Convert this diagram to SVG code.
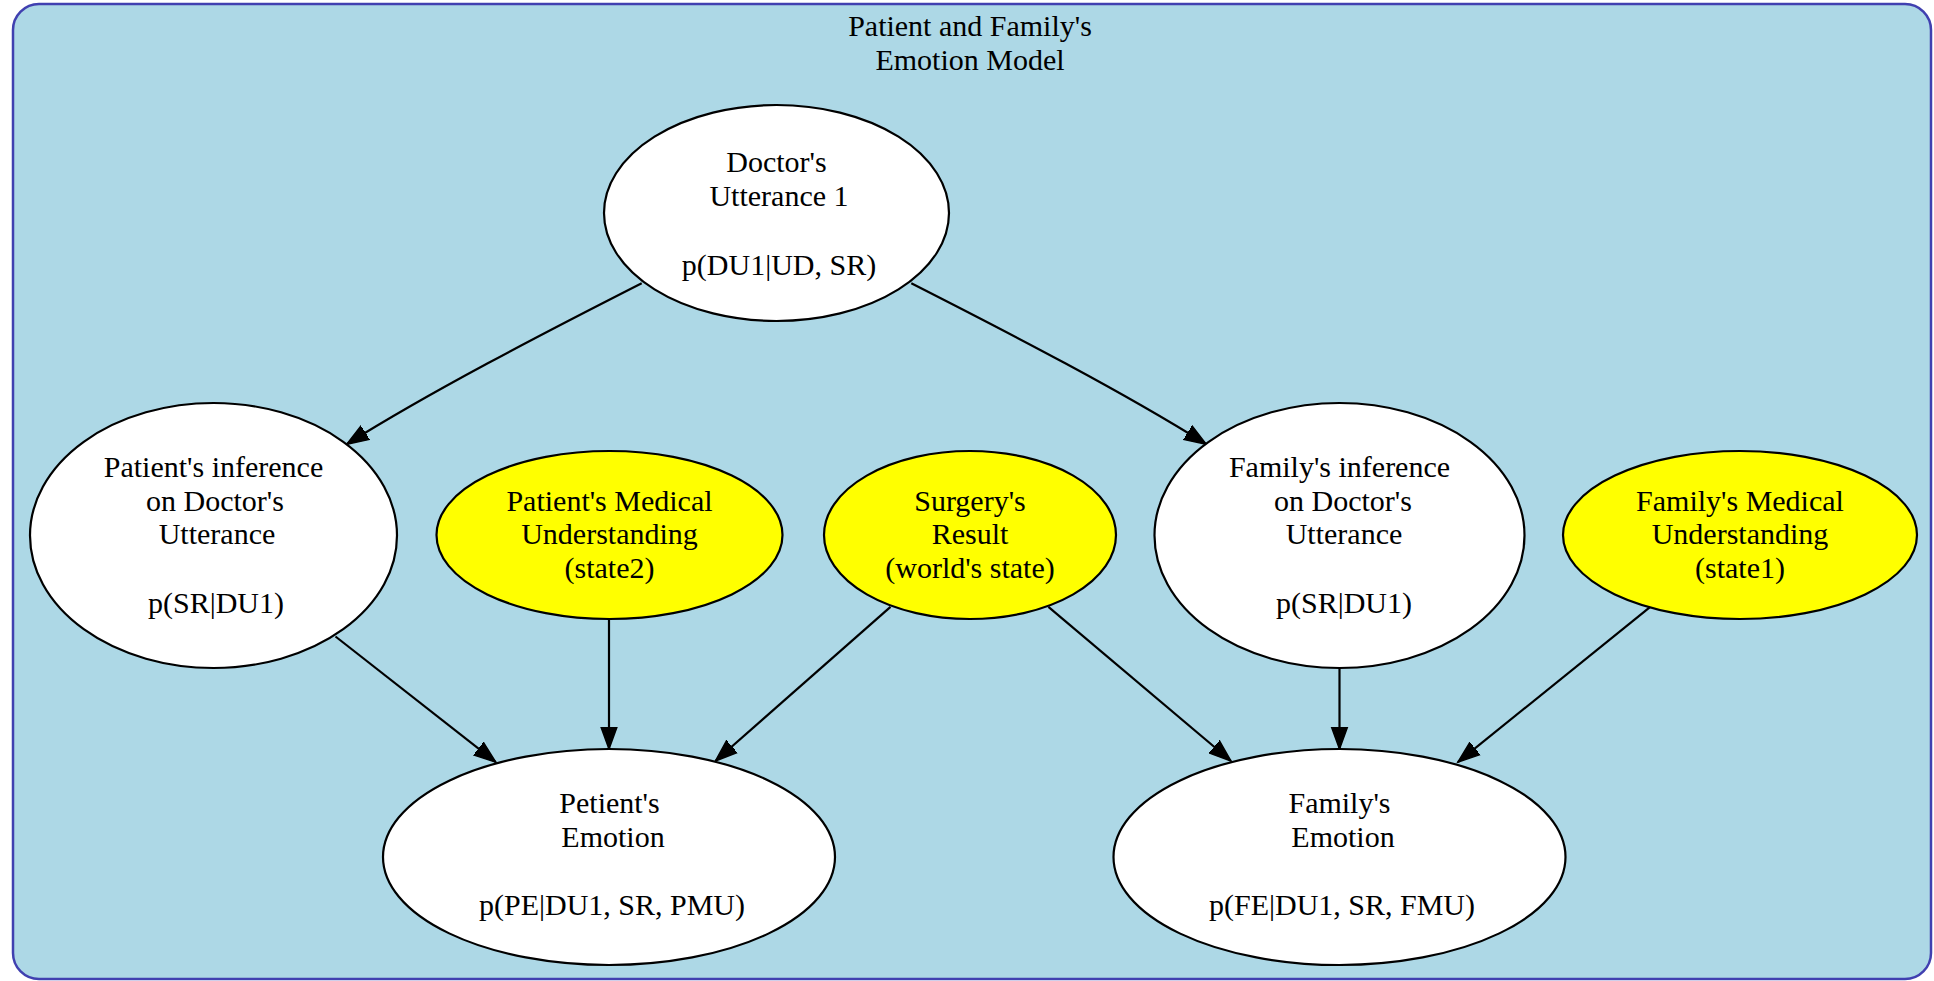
<svg xmlns="http://www.w3.org/2000/svg" width="1934" height="981" viewBox="0 0 1934 981">
<defs>
<marker id="arr" markerUnits="userSpaceOnUse" markerWidth="26" markerHeight="20" viewBox="0 -10 26 20" refX="22" refY="0" orient="auto">
<path d="M0,-8 L22,0 L0,8 Z" fill="#000" stroke="#000" stroke-width="1.5"/>
</marker>
</defs>
<style>
.t{font-family:"Liberation Serif","Times New Roman",serif;font-size:30px;fill:#000;text-anchor:middle}
.w{fill:#fff;stroke:#000;stroke-width:2.2}
.y{fill:#ffff00;stroke:#000;stroke-width:2.2}
.e{fill:none;stroke:#000;stroke-width:2.2;marker-end:url(#arr)}
</style>
<rect width="1934" height="981" fill="#fff"/>
<g id="cluster">
<rect x="13" y="4" width="1918" height="975" rx="26" ry="26" fill="#add8e6" stroke="#4040b0" stroke-width="2.5"/>
<text class="t" x="970" y="36">Patient and Family's</text>
<text class="t" x="970" y="70">Emotion Model</text>
</g>
<g id="edges">
<path class="e" d="M641.7,283.3 C540,335 430,392 346.7,444.3"/>
<path class="e" d="M911.3,283.3 C1013,335 1123,392 1206.3,444.3"/>
<path class="e" d="M335.5,636.5 L495.8,762.2"/>
<path class="e" d="M609,619 L609,749"/>
<path class="e" d="M890.5,606.8 L715.4,761"/>
<path class="e" d="M1048.4,606.8 L1231,761"/>
<path class="e" d="M1339.5,668 L1339.5,749"/>
<path class="e" d="M1650.3,606.8 L1457.9,762.2"/>
</g>
<g id="doctor">
<ellipse class="w" cx="776.5" cy="213" rx="172.5" ry="108"/>
<text class="t" x="776.5" y="171.5">Doctor's</text>
<text class="t" x="779" y="205.5">Utterance 1</text>
<text class="t" x="779" y="274.5">p(DU1|UD, SR)</text>
</g>
<g id="patient_inference">
<ellipse class="w" cx="213.5" cy="535.5" rx="183.5" ry="132.5"/>
<text class="t" x="213.5" y="477">Patient's inference</text>
<text class="t" x="215" y="510.5">on Doctor's</text>
<text class="t" x="217" y="544">Utterance</text>
<text class="t" x="216" y="612.5">p(SR|DU1)</text>
</g>
<g id="patient_medical">
<ellipse class="y" cx="609.5" cy="535" rx="173" ry="84"/>
<text class="t" x="609.5" y="510.5">Patient's Medical</text>
<text class="t" x="609.5" y="544">Understanding</text>
<text class="t" x="609.5" y="577.5">(state2)</text>
</g>
<g id="surgery">
<ellipse class="y" cx="970" cy="535" rx="146" ry="84"/>
<text class="t" x="970" y="510.5">Surgery's</text>
<text class="t" x="970" y="544">Result</text>
<text class="t" x="970" y="577.5">(world's state)</text>
</g>
<g id="family_inference">
<ellipse class="w" cx="1339.5" cy="535.5" rx="185" ry="132.5"/>
<text class="t" x="1339.5" y="477">Family's inference</text>
<text class="t" x="1343" y="510.5">on Doctor's</text>
<text class="t" x="1344" y="544">Utterance</text>
<text class="t" x="1344" y="612.5">p(SR|DU1)</text>
</g>
<g id="family_medical">
<ellipse class="y" cx="1740" cy="535" rx="177" ry="84"/>
<text class="t" x="1740" y="510.5">Family's Medical</text>
<text class="t" x="1740" y="544">Understanding</text>
<text class="t" x="1740" y="577.5">(state1)</text>
</g>
<g id="patient_emotion">
<ellipse class="w" cx="609" cy="857" rx="226" ry="108"/>
<text class="t" x="609.5" y="813">Petient's</text>
<text class="t" x="613" y="847">Emotion</text>
<text class="t" x="612" y="915">p(PE|DU1, SR, PMU)</text>
</g>
<g id="family_emotion">
<ellipse class="w" cx="1339.5" cy="857" rx="226" ry="108"/>
<text class="t" x="1339.5" y="813">Family's</text>
<text class="t" x="1343" y="847">Emotion</text>
<text class="t" x="1342" y="915">p(FE|DU1, SR, FMU)</text>
</g>
</svg>
